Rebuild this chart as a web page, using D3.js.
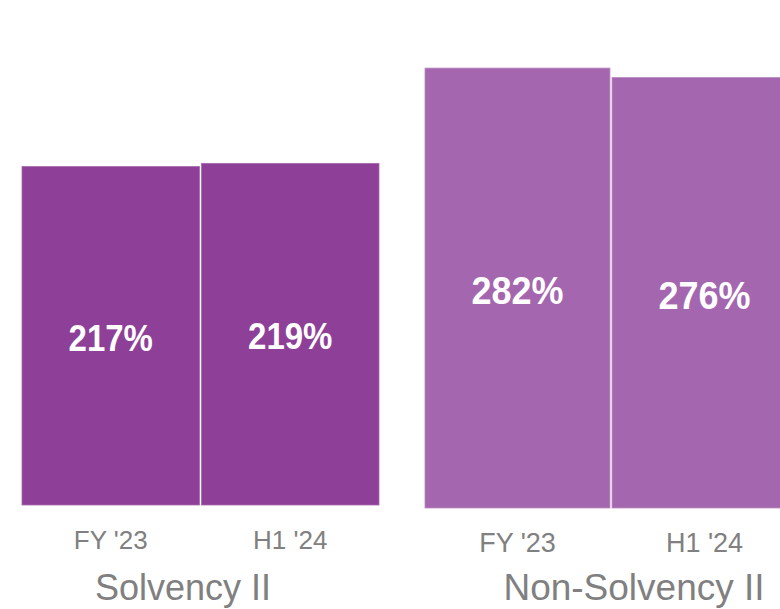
<!DOCTYPE html>
<html>
<head>
<meta charset="utf-8">
<script src="https://cdn.jsdelivr.net/npm/d3@7"></script>
<style>
  html, body { margin: 0; padding: 0; background: #ffffff; }
  svg { display: block; }
</style>
</head>
<body>
<svg id="chart" width="780" height="609"></svg>
<script>
// ---- data ----
const periods = ["FY '23", "H1 '24"];
const solvencyValues = [217, 219];
const nonSolvencyValues = [282, 276];
const groupTitles = ["Solvency II", "Non-Solvency II"];

const svg = d3.select("#chart");
const font = "'Liberation Sans', Arial, Helvetica, sans-serif";

const panels = [
  { title: groupTitles[0], values: solvencyValues, x0: 22, x1: 379, base: 505,
    fill: "#8E3F97", stroke: "#A56BAD", valueSize: 33, tickSize: 26, titleSize: 36,
    titleX: 183, titleY: 600, tickY: 549 },
  { title: groupTitles[1], values: nonSolvencyValues, x0: 425, x1: 797, base: 508,
    fill: "#A466AE", stroke: "#BB8CC3", valueSize: 36, tickSize: 27, titleSize: 37,
    titleX: 634, titleY: 600, tickY: 551.5 }
];

panels.forEach(p => {
  const x = d3.scaleBand().domain(periods).range([p.x0, p.x1]).paddingInner(0.011).paddingOuter(0);
  const y = d3.scaleLinear().domain([0, 300]).range([p.base, p.base - 468]);
  const g = svg.append("g");
  const data = periods.map((k, i) => ({ k, v: p.values[i] }));

  g.selectAll("rect").data(data).join("rect")
    .attr("x", d => x(d.k))
    .attr("y", d => y(d.v))
    .attr("width", x.bandwidth())
    .attr("height", d => y(0) - y(d.v))
    .attr("fill", p.fill)
    .attr("stroke", p.stroke)
    .attr("stroke-width", 0.8);

  g.selectAll("text.val").data(data).join("text")
    .attr("class", "val")
    .attr("transform", d => `translate(${x(d.k) + x.bandwidth() / 2},${(y(d.v) + y(0)) / 2 + 2}) scale(1,1.1)`)
    .attr("dy", "0.36em")
    .attr("text-anchor", "middle")
    .attr("fill", "#ffffff")
    .attr("font-family", font)
    .attr("font-weight", "bold")
    .attr("font-size", p.valueSize)
    .text(d => d.v + "%");

  // axis labels via d3 axis
  const axis = d3.axisBottom(x).tickSize(0).tickPadding(0);
  const ag = g.append("g").attr("transform", `translate(0,${p.tickY})`).call(axis);
  ag.select(".domain").remove();
  ag.selectAll("text")
    .attr("y", 0).attr("dy", 0)
    .attr("fill", "#808080")
    .attr("font-family", font)
    .attr("font-size", p.tickSize);

  g.append("text")
    .attr("x", p.titleX)
    .attr("y", p.titleY)
    .attr("text-anchor", "middle")
    .attr("fill", "#808080")
    .attr("font-family", font)
    .attr("font-size", p.titleSize)
    .text(p.title);
});
</script>
</body>
</html>
